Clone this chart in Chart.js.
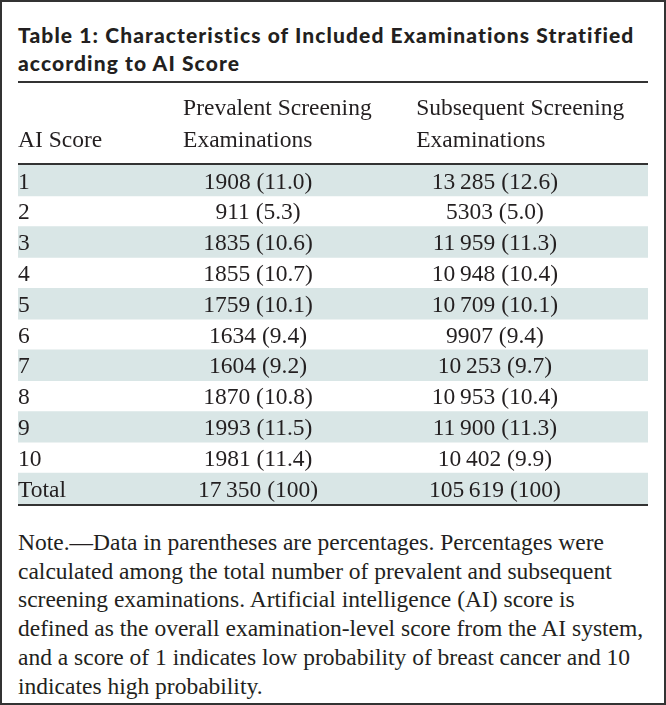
<!DOCTYPE html>
<html>
<head>
<meta charset="utf-8">
<script src="https://cdn.jsdelivr.net/npm/chart.js@4"></script>
<style>
  html, body { margin: 0; padding: 0; background: #fff; }
  #frame {
    position: relative;
    width: 666px; height: 705px;
    box-sizing: border-box;
    border: 2px solid #333;
    color: #231f20;
  }
  #title {
    position: absolute; left: 16px; top: 19px;
    font-family: Lato, "DejaVu Sans", sans-serif;
    font-weight: 900; font-size: 21px; line-height: 28px;
    letter-spacing: 1.1px;
    white-space: nowrap;
  }
  #tableBox {
    position: absolute; left: -2px; top: 76px;
    width: 666px; height: 440px;
  }
  #note {
    position: absolute; left: 16px; top: 526px;
    font-family: "Liberation Serif", serif;
    font-size: 23.5px; line-height: 28.7px;
    white-space: nowrap;
  }
</style>
</head>
<body>
<div id="frame">
  <div id="title">Table 1: Characteristics of Included Examinations Stratified<br>according to AI Score</div>
  <div id="tableBox"><canvas id="tbl"></canvas></div>
  <div id="note">Note.—Data in parentheses are percentages. Percentages were<br>calculated among the total number of prevalent and subsequent<br>screening examinations. Artificial intelligence (AI) score is<br>defined as the overall examination-level score from the AI system,<br>and a score of 1 indicates low probability of breast cancer and 10<br>indicates high probability.</div>
</div>
<script>
// table rows
const scores = ['1', '2', '3', '4', '5', '6', '7', '8', '9', '10', 'Total'];
const prevalentN = [1908, 911, 1835, 1855, 1759, 1634, 1604, 1870, 1993, 1981, 17350];
const prevalentPct = ['11.0', '5.3', '10.6', '10.7', '10.1', '9.4', '9.2', '10.8', '11.5', '11.4', '100'];
const subsequentN = [13285, 5303, 11959, 10948, 10709, 9907, 10253, 10953, 11900, 10402, 105619];
const subsequentPct = ['12.6', '5.0', '11.3', '10.4', '10.1', '9.4', '9.7', '10.4', '11.3', '9.9', '100'];
const headers = ['AI Score', 'Prevalent Screening\nExaminations', 'Subsequent Screening\nExaminations'];

const serif = '23.5px "Liberation Serif", serif';
const ink = '#231f20';
const shade = '#d9e6e6';

// 5 digit numbers get a thin space
function fmt(n) {
  if (n < 10000) return String(n);
  return String(n).replace(/\B(?=(\d{3})+(?!\d))/g, '\u2009');
}

// alternate rows shaded, full width
const stripe = scores.map((s, i) => (i % 2 === 0 ? [0, 1] : null));

const tablePlugin = {
  id: 'tableText',
  beforeDatasetsDraw(chart) {
    const { ctx, chartArea } = chart;
    ctx.save();
    ctx.strokeStyle = '#333';
    ctx.lineWidth = 2;
    [4, chartArea.top - 1, chartArea.bottom + 1].forEach(y => {
      ctx.beginPath();
      ctx.moveTo(chartArea.left, y);
      ctx.lineTo(chartArea.right, y);
      ctx.stroke();
    });
    ctx.restore();
  },
  afterDatasetsDraw(chart) {
    const { ctx, chartArea, scales } = chart;
    const x = scales.x, y = scales.y;
    ctx.save();
    ctx.font = serif;
    ctx.fillStyle = ink;
    ctx.textBaseline = 'middle';

    // header
    ctx.textAlign = 'left';
    const hx = [0, 0.262, 0.632];
    headers.forEach((h, c) => {
      const lines = h.split('\n');
      lines.forEach((ln, k) => {
        const yy = chartArea.top - 24 - (lines.length - 1 - k) * 32;
        ctx.fillText(ln, x.getPixelForValue(hx[c]), yy);
      });
    });

    // cells
    ctx.textAlign = 'center';
    scores.forEach((s, i) => {
      const yy = y.getPixelForValue(i) + 2;
      ctx.fillText(fmt(prevalentN[i]) + ' (' + prevalentPct[i] + ')', x.getPixelForValue(0.381), yy);
      ctx.fillText(fmt(subsequentN[i]) + ' (' + subsequentPct[i] + ')', x.getPixelForValue(0.757), yy);
    });
    ctx.restore();
  }
};

new Chart(document.getElementById('tbl'), {
  type: 'bar',
  data: {
    labels: scores,
    datasets: [{
      data: stripe,
      backgroundColor: shade,
      borderWidth: 0,
      barPercentage: 1,
      categoryPercentage: 1
    }]
  },
  options: {
    indexAxis: 'y',
    responsive: true,
    maintainAspectRatio: false,
    animation: false,
    layout: { padding: { left: 18, right: 18, top: 87, bottom: 3 } },
    plugins: { legend: { display: false }, tooltip: { enabled: false } },
    scales: {
      x: { type: 'linear', min: 0, max: 1, display: false },
      y: {
        type: 'category',
        grid: { display: false, drawTicks: false },
        border: { display: false },
        ticks: {
          z: 1,
          mirror: true,
          crossAlign: 'near',
          autoSkip: false,
          padding: 0,
          labelOffset: 2,
          color: ink,
          font: { family: '"Liberation Serif", serif', size: 23.5 }
        }
      }
    }
  },
  plugins: [tablePlugin]
});
</script>
</body>
</html>
